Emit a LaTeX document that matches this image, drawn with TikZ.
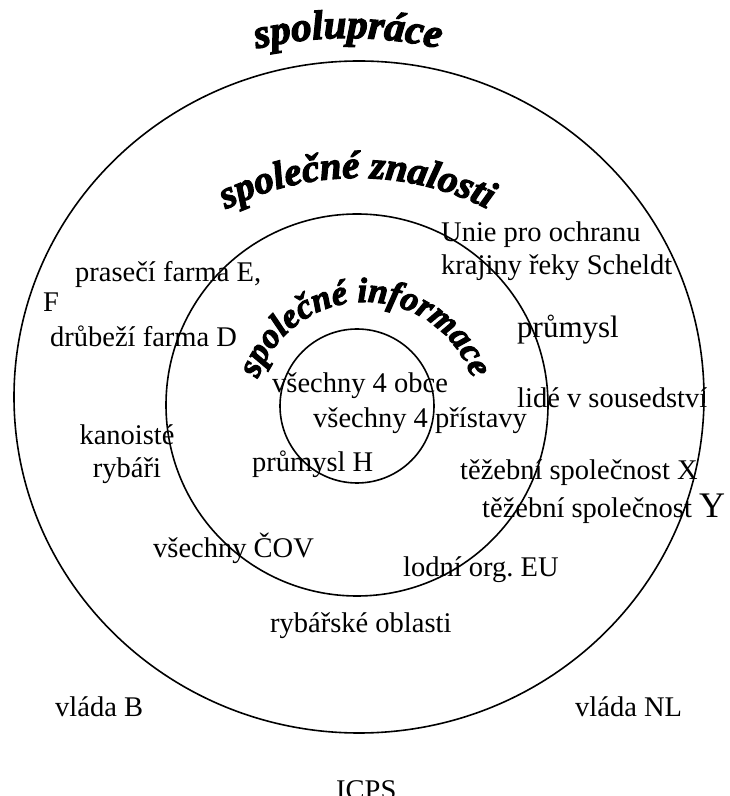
\documentclass[tikz,border=0pt]{standalone}
\usepackage{fontspec}
\setmainfont{Liberation Serif}
\newfontfamily\obloukfont{Liberation Serif}[UprightFont=* Bold Italic, FakeBold=3]
\usepackage{tikz}
\usetikzlibrary{decorations.text}
\frenchspacing

\tikzset{
  kruh/.style={line width=1.6pt},
  popis/.style={font=\fontsize{28.5}{33}\selectfont, inner sep=0pt, anchor=base west},
  oblouk/.style={decorate, decoration={text along path, text align=center, text={#1}}},
}

\begin{document}
\begin{tikzpicture}[x=1pt,y=1pt]
  \useasboundingbox (0,0) rectangle (730,796);
  % Kruhy
  \draw[kruh] (359,399) ellipse [x radius=345, y radius=336];
  \draw[kruh] (357,391) circle [radius=191];
  \draw[kruh] (357,390) circle [radius=77];
  % Nadpisy po oblouku
  \path[oblouk={|\obloukfont\fontsize{41}{41}\selectfont|spolupráce}]
    (348,358) ++(105:400) arc [start angle=105, end angle=75, radius=400];
  \path[oblouk={|\obloukfont\fontsize{39}{39}\selectfont|společné znalosti}]
    (357,328) ++(130:290) arc [start angle=130, end angle=50, radius=290];
  \path[oblouk={|\obloukfont\fontsize{35}{35}\selectfont|společné informace}]
    (365,381) ++(175:113) arc [start angle=175, end angle=5, radius=113];
  % Popisky
  \node[popis, align=left] (unie) at (441,521) {Unie pro ochranu\\krajiny řeky Scheldt};
  \node[popis] (prasata) at (75,514) {prasečí farma E,};
  \node[popis] (f) at (43,484) {F};
  \node[popis] (drubez) at (50,449) {drůbeží farma D};
  \node[popis, font=\fontsize{31}{33}\selectfont] (prumysl) at (517,458) {průmysl};
  \node[popis] (obce) at (272,403) {všechny 4 obce};
  \node[popis] (pristavy) at (313,368) {všechny 4 přístavy};
  \node[popis] (prumyslh) at (252,324) {průmysl H};
  \node[popis, anchor=base, align=center] (kanoiste) at (127,318) {kanoisté\\rybáři};
  \node[popis] (lide) at (517,388) {lidé v sousedství};
  \node[popis] (tezbax) at (460,316) {těžební společnost X};
  \node[popis] (tezbay) at (482,278) {těžební společnost {\fontsize{36}{36}\selectfont Y}};
  \node[popis] (cov) at (153,238) {všechny ČOV};
  \node[popis] (lodni) at (403,219) {lodní org. EU};
  \node[popis] (rybari) at (270,163) {rybářské oblasti};
  \node[popis] (vladab) at (55,79) {vláda B};
  \node[popis] (vladanl) at (575,79) {vláda NL};
  \node[popis] (icps) at (336,-3) {ICPS};
\end{tikzpicture}
\end{document}
